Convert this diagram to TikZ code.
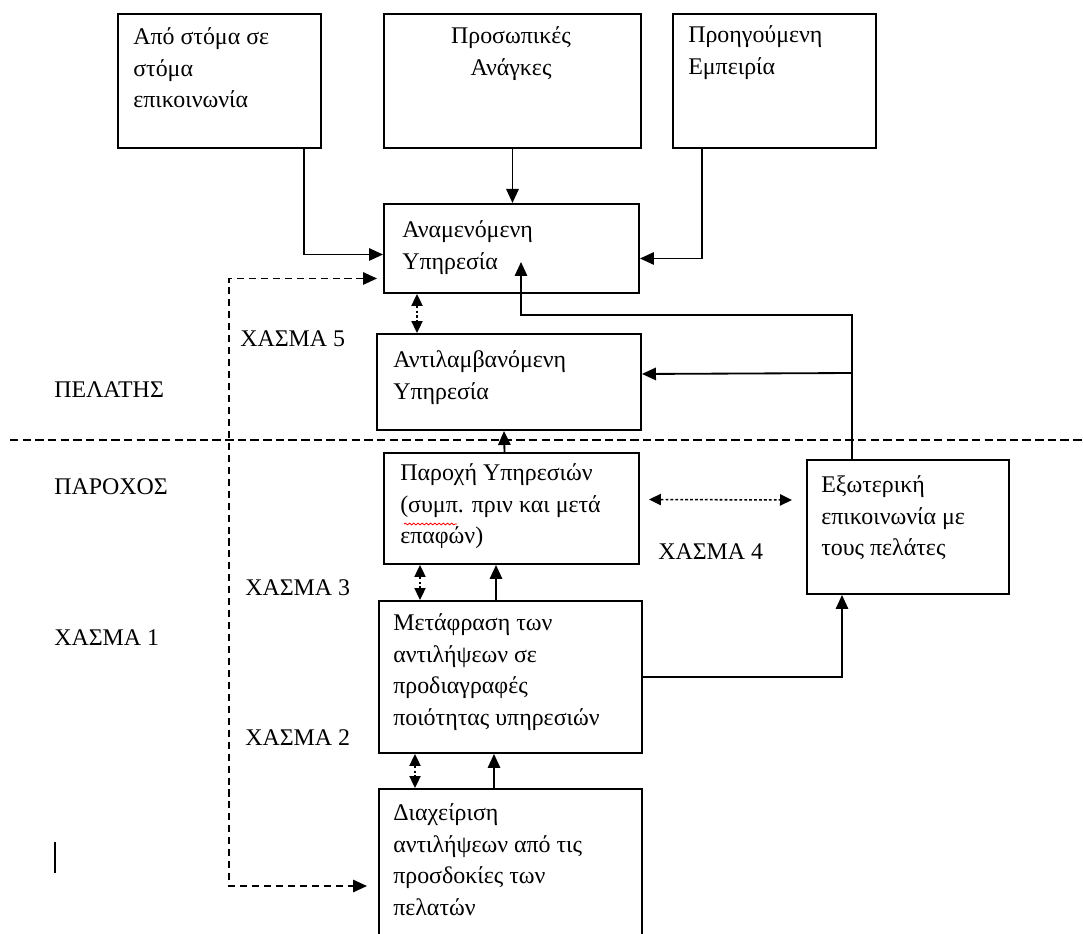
\documentclass[tikz,border=0pt]{standalone}
\usepackage{fontspec}
\setmainfont{Liberation Serif}
\usetikzlibrary{arrows.meta, calc, decorations.pathmorphing}

\begin{document}
\begin{tikzpicture}[
	> = {Triangle[length = 3.5mm, width = 3.1mm]},
	x = 0.025cm, y = -0.025cm,
	box/.style 2 args = {draw, line width = 1.4pt, anchor = north west, inner sep = 0pt, minimum width = #1 * 0.025cm, minimum height = #2 * 0.025cm},
	txt/.style = {inner sep = 0pt, align = left, anchor = north west, text = black, font = \fontsize{17}{22.5}\selectfont},
	lbl/.style = {inner sep = 0pt, anchor = west, text = black, font = \fontsize{17}{22.5}\selectfont},
	link/.style = {->, line width = 1.3pt},
	dashlink/.style = {<->, line width = 1.3pt, dash pattern = on 5pt off 3.5pt},
	gaparrow/.style = {<->, line width = 1.1pt, dash pattern = on 2pt off 1.5pt, > = {Triangle[length = 3mm, width = 2.8mm]}},
	divider/.style = {line width = 1.3pt, dash pattern = on 6pt off 3pt}
]

	\clip (0, 0) rectangle (1083, 933);

	% Top boxes

	\node [box = {203}{134}] (word) at (117, 13) {};
	\node [box = {257}{134}] (needs) at (383, 13) {};
	\node [box = {203}{134}] (past) at (672, 13) {};

	\node [txt] (wordtxt) at (133, 22) {\strut Από στόμα σε\\στόμα\\επικοινωνία};
	\node [txt, align = center, anchor = north] (needstxt) at (511, 21) {\strut Προσωπικές\\Ανάγκες};
	\node [txt] (pasttxt) at (688, 20) {\strut Προηγούμενη\\Εμπειρία};

	% Customer side

	\node [box = {255}{89}] (ana) at (383, 203) {};
	\node [box = {264}{96}] (anti) at (376, 333) {};

	\node [txt] (anatxt) at (402, 215) {\strut Αναμενόμενη\\Υπηρεσία};
	\node [txt] (antitxt) at (393, 345) {\strut Αντιλαμβανόμενη\\Υπηρεσία};

	% Provider side

	\node [box = {255}{111}] (paro) at (383, 452) {};
	\node [box = {202}{134}] (extc) at (806, 459) {};
	\node [box = {263}{152}] (meta) at (378, 600) {};
	\node [box = {263}{160}] (mgmt) at (378, 788) {};

	\node [txt] (parotxt) at (400, 458) {\strut Παροχή Υπηρεσιών\\(συμπ. πριν και μετά\\επαφών)};
	\node [txt] (extctxt) at (821, 470) {\strut Εξωτερική\\επικοινωνία με\\τους πελάτες};
	\node [txt] (metatxt) at (393, 608) {\strut Μετάφραση των\\αντιλήψεων σε\\προδιαγραφές\\ποιότητας υπηρεσιών};
	\node [txt] (mgmttxt) at (393, 798) {\strut Διαχείριση\\αντιλήψεων από τις\\προσδοκίες των\\πελατών};

	% Spell check mark

	\draw [red, line width = 0.6pt, decorate, decoration = {snake, amplitude = 0.6pt, segment length = 3pt}] (404, 524) -- (457, 524);

	% Side labels

	\node [lbl] (pelatis) at (54, 390) {ΠΕΛΑΤΗΣ};
	\node [lbl] (parochos) at (54, 487) {ΠΑΡΟΧΟΣ};
	\node [lbl] (gap1) at (54, 638) {ΧΑΣΜΑ 1};
	\node [lbl] (gap5) at (240, 339) {ΧΑΣΜΑ 5};
	\node [lbl] (gap3) at (245, 588) {ΧΑΣΜΑ 3};
	\node [lbl] (gap2) at (245, 738) {ΧΑΣΜΑ 2};
	\node [lbl] (gap4) at (658, 552) {ΧΑΣΜΑ 4};

	% Divider between customer and provider

	\draw [divider] (10, 440) -- (1083, 440);

	% Inputs to expected service

	\draw [link] ($(word.south east) + (-18, 0)$) |- ($(ana.west) + (0, 6)$);
	\draw [link] (needs.south) -- (needs.south |- ana.north);
	\draw [link] ($(past.south west) + (30, 0)$) |- ($(ana.east) + (0, 10)$);

	% Feedback from external communication

	\draw [link] ($(extc.north west) + (46, 0)$) |- ($(ana.south west) + (138, 21)$) -- ($(ana.south west) + (138, -32)$);
	\draw [link] ($(extc.north west) + (46, -86)$) -- ($(anti.east) + (0, -8)$);

	% Provider chain

	\draw [link] ($(paro.north) + (-7, 0)$) -- ($(anti.south) + (-5, 0)$);
	\draw [link] ($(meta.north west) + (118, 0)$) -- ($(paro.south west) + (113, 0)$);
	\draw [link] ($(mgmt.north west) + (116, 0)$) -- ($(meta.south west) + (116, 0)$);
	\draw [link] (meta.east) -| ($(extc.south west) + (36, 0)$);

	% Gaps

	\draw [gaparrow] ($(ana.south west) + (34, 0)$) -- ($(anti.north west) + (41, 0)$);
	\draw [gaparrow] ($(paro.east) + (9, -9)$) -- ($(extc.west) + (-14, -27)$);
	\draw [gaparrow] ($(paro.south west) + (37, 0)$) -- ($(meta.north west) + (42, 0)$);
	\draw [gaparrow] ($(meta.south west) + (37, 0)$) -- ($(mgmt.north west) + (37, 0)$);

	\draw [dashlink] ($(ana.west) + (-6, 30)$) -| ($(mgmt.north west) + (-149, 98)$) -- ($(mgmt.north west) + (-11, 98)$);

	% Cursor mark

	\draw [line width = 1.5pt] (55, 842) -- (55, 873);

\end{tikzpicture}
\end{document}
